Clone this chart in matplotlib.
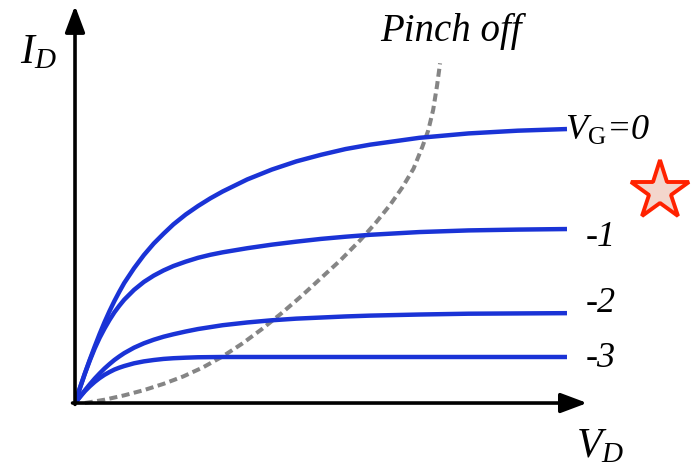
import matplotlib
matplotlib.use("Agg")
import matplotlib.pyplot as plt

plt.rcParams["mathtext.fontset"] = "custom"
plt.rcParams["mathtext.rm"] = "Liberation Serif"
plt.rcParams["mathtext.it"] = "Liberation Serif:italic"
plt.rcParams["mathtext.bf"] = "Liberation Serif:bold"

# drain voltage grid (V) shared by the output curves
vd = [0, 0.1, 0.2, 0.3, 0.4, 0.5, 0.6, 0.7, 0.8, 0.9, 1.0, 1.2, 1.4, 1.6, 1.8, 2.0,
      2.25, 2.5, 2.75, 3.0, 3.5, 4.0, 4.5, 5.0, 5.5, 6.0, 7.0, 8.0, 9.0, 10.0]

# drain current (mA) for each gate voltage
id_vg0 = [0, 0.55, 1.08, 1.58, 2.06, 2.52, 2.95, 3.35, 3.72, 4.06, 4.38, 4.92, 5.40, 5.82, 6.18, 6.52,
          6.88, 7.19, 7.47, 7.72, 8.16, 8.52, 8.82, 9.06, 9.27, 9.43, 9.68, 9.84, 9.94, 10.0]
id_vg1 = [0, 0.55, 1.07, 1.55, 1.99, 2.38, 2.72, 3.03, 3.31, 3.55, 3.77, 4.13, 4.42, 4.65, 4.84, 5.00,
          5.16, 5.30, 5.41, 5.50, 5.65, 5.78, 5.89, 5.99, 6.07, 6.14, 6.24, 6.30, 6.33, 6.35]
id_vg2 = [0, 0.23, 0.46, 0.68, 0.89, 1.08, 1.26, 1.42, 1.57, 1.70, 1.82, 2.02, 2.18, 2.31, 2.42, 2.51,
          2.61, 2.70, 2.77, 2.84, 2.94, 3.02, 3.08, 3.12, 3.16, 3.19, 3.23, 3.26, 3.27, 3.28]
id_vg3 = [0, 0.22, 0.43, 0.61, 0.77, 0.91, 1.03, 1.13, 1.22, 1.29, 1.35, 1.45, 1.52, 1.57, 1.61, 1.635,
          1.655, 1.67, 1.675, 1.68, 1.68, 1.68, 1.68, 1.68, 1.68, 1.68, 1.68, 1.68, 1.68, 1.68]
curves = [id_vg0, id_vg1, id_vg2, id_vg3]
gate_labels = [r"$V_{\mathrm{G}}$=0", "-1", "-2", "-3"]

# pinch-off locus
pinch_vd = [0.20, 0.6, 1.0, 1.4, 1.8, 2.2, 2.6, 3.0, 3.4, 3.8, 4.2, 4.6, 5.0, 5.4, 5.8, 6.1,
            6.4, 6.65, 6.88, 7.06, 7.18, 7.28, 7.36, 7.42]
pinch_id = [0.0, 0.12, 0.28, 0.47, 0.70, 0.97, 1.30, 1.70, 2.17, 2.70, 3.28, 3.90, 4.56, 5.22, 5.95, 6.55,
            7.22, 7.86, 8.55, 9.35, 9.95, 10.7, 11.6, 12.4]

BLUE = "#1a33d6"
GRAY = "#858585"
SERIF = "Liberation Serif"

fig = plt.figure(figsize=(6.92, 4.67), dpi=100)
ax = fig.add_axes([0.1084, 0.137, 0.7536, 0.8507])
ax.set_xlim(0, 10.6)
ax.set_ylim(0, 14.5)
ax.axis("off")

for values in curves:
    ax.plot(vd, values, color=BLUE, lw=3.2, solid_capstyle="butt",
            solid_joinstyle="round", zorder=3)

ax.plot(pinch_vd, pinch_id, color=GRAY, lw=2.9, dashes=(2.0, 1.1), zorder=2, clip_on=False)

# axes with arrow heads
arrow = dict(arrowstyle="-|>,head_length=1.6,head_width=0.6", mutation_scale=10,
             lw=2.6, color="black", shrinkA=0, shrinkB=0)
ax.annotate("", xy=(10.41, 0), xytext=(-0.05, 0), arrowprops=arrow, annotation_clip=False)
ax.annotate("", xy=(0, 14.5), xytext=(0, -0.05), arrowprops=arrow, annotation_clip=False)

label_pos = [(9.96, 9.93), (10.37, 6.05), (10.37, 3.65), (10.37, 1.62)]
for text, (x, y) in zip(gate_labels, label_pos):
    ax.text(x, y, text, fontsize=26, family=SERIF, style="italic",
            ha="left", va="center", clip_on=False)

ax.text(-0.75, 12.85, r"$I_D$", fontsize=30, ha="center", va="center")
ax.text(10.68, -1.55, r"$V_D$", fontsize=30, ha="center", va="center")
ax.text(7.64, 13.55, "Pinch off", fontsize=28, family=SERIF, style="italic",
        ha="center", va="center")

# star marker beside the top curve
ax.plot([0.954], [0.591], marker="*", markersize=44, markerfacecolor="#f3d6cc",
        markeredgecolor="#ff2200", markeredgewidth=2.8, transform=fig.transFigure,
        clip_on=False)

fig.savefig("out.png", dpi=100)
